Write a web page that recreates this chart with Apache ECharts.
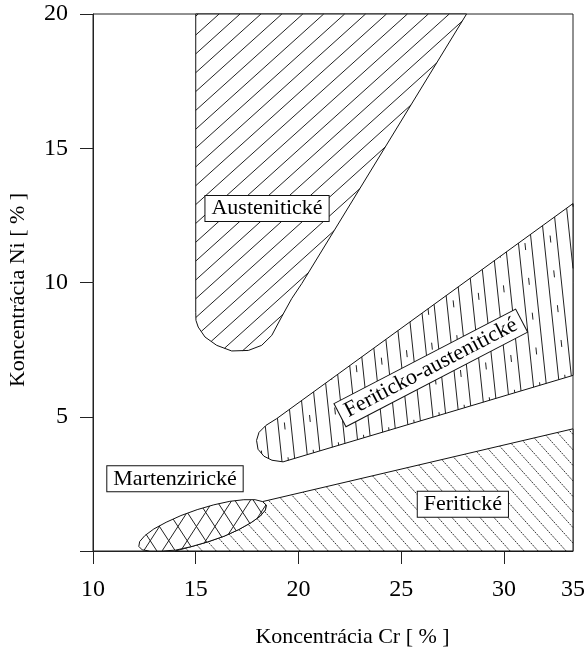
<!DOCTYPE html>
<html>
<head>
<meta charset="utf-8">
<script src="https://cdn.jsdelivr.net/npm/echarts@6/dist/echarts.min.js"></script>
<style>
html,body{margin:0;padding:0;background:#fff;}
#chart{width:584px;height:650px;}
</style>
</head>
<body>
<div id="chart"></div>
<script>
// ---- data ----
const xTickValues = [10, 15, 20, 25, 30, 33.36];   // last tick sits on the right frame edge
const xTickLabels = ['10', '15', '20', '25', '30', '35'];
const yTickValues = [0, 5, 10, 15, 20];
const yTickLabels = ['', '5', '10', '15', '20'];
const xRange = [10, 33.36];
const yRange = [0, 20];

const austeniticOutline = [[15.0,20],[15.0,8.89],[15.01,8.59],[15.12,8.34],[15.45,7.97],[16.02,7.66],[16.75,7.45],[17.56,7.47],[18.21,7.66],[18.70,8.03],[19.18,8.72],[19.67,9.40],[20.16,9.96],[28.18,20]];
const ferriticAusteniticOutline = [[18.94,4.93],[33.36,12.94],[33.36,6.54],[19.25,3.32],[18.71,3.38],[18.32,3.53],[18.03,3.79],[17.96,4.12],[18.08,4.42],[18.42,4.68]];
const ferriticOutline = [[18.25,1.84],[33.36,4.55],[33.36,0],[14.0,0],[14.77,0.16],[15.59,0.34],[16.38,0.55],[17.10,0.80],[17.70,1.06],[18.14,1.30],[18.39,1.53],[18.43,1.71]];
const martensiticOutline = [[18.43,1.71],[18.39,1.53],[18.14,1.30],[17.70,1.06],[17.10,0.80],[16.38,0.55],[15.59,0.34],[14.77,0.16],[14.00,0.03],[13.32,0],[12.77,0],[12.40,0.04],[12.23,0.17],[12.27,0.35],[12.52,0.57],[12.96,0.82],[13.56,1.07],[14.28,1.32],[15.07,1.54],[15.88,1.72],[16.66,1.85],[17.34,1.91],[17.89,1.91],[18.25,1.84]];

const regionLabels = ['Austenitické', 'Feriticko-austenitické', 'Martenzirické', 'Feritické'];
const labelX = [18.47, 26.44, 13.99, 28.0];
const labelY = [12.76, 6.82, 2.69, 1.74];
const labelAngle = [0, 27.5, 0, 0];

const FONT = '"Liberation Serif", "Times New Roman", serif';

// ---- hatch clipping helper (pixel space) ----
function hatchSegments(pts, angleDeg, spacing, offset) {
  const a = angleDeg * Math.PI / 180;
  const dx = Math.cos(a), dy = -Math.sin(a);
  const nx = -dy, ny = dx;
  let minN = Infinity, maxN = -Infinity;
  pts.forEach(p => { const v = p[0]*nx + p[1]*ny; if (v < minN) minN = v; if (v > maxN) maxN = v; });
  const segs = [];
  const start = Math.ceil((minN - offset) / spacing) * spacing + offset;
  for (let c = start; c <= maxN; c += spacing) {
    const ts = [];
    for (let i = 0; i < pts.length; i++) {
      const p = pts[i], q = pts[(i + 1) % pts.length];
      const np = p[0]*nx + p[1]*ny - c, nq = q[0]*nx + q[1]*ny - c;
      if ((np > 0) !== (nq > 0)) {
        const t = np / (np - nq);
        const x = p[0] + t*(q[0]-p[0]), y = p[1] + t*(q[1]-p[1]);
        ts.push(x*dx + y*dy);
      }
    }
    ts.sort((u, v) => u - v);
    for (let k = 0; k + 1 < ts.length; k += 2) {
      segs.push([c*nx + ts[k]*dx, c*ny + ts[k]*dy, c*nx + ts[k+1]*dx, c*ny + ts[k+1]*dy]);
    }
  }
  return segs;
}

function regionSeries(name, outline, hatches) {
  return {
    name: name,
    type: 'custom',
    coordinateSystem: 'cartesian2d',
    silent: true,
    animation: false,
    data: [outline[0]],
    renderItem: function (params, api) {
      const pts = outline.map(p => api.coord(p));
      const children = [{ type: 'polygon', shape: { points: pts }, style: { fill: '#fff' } }];
      hatches.forEach(h => {
        hatchSegments(pts, h.angle, h.spacing, h.offset || 0).forEach(s => {
          children.push({
            type: 'line',
            shape: { x1: s[0], y1: s[1], x2: s[2], y2: s[3] },
            style: { stroke: h.color || '#222', lineWidth: h.width || 1, lineDash: h.dash || null, lineDashOffset: h.dashOffset || 0, fill: null }
          });
        });
      });
      children.push({ type: 'polygon', shape: { points: pts }, style: { fill: 'none', stroke: '#111', lineWidth: 1 } });
      return { type: 'group', children: children };
    }
  };
}

const chart = echarts.init(document.getElementById('chart'), null, { renderer: 'canvas' });

chart.setOption({
  backgroundColor: '#fff',
  animation: false,
  grid: {
    left: 93, right: 11, top: 14, bottom: 99,
    containLabel: false,
    outerBoundsMode: 'none',
    show: true, borderColor: '#222', borderWidth: 1, backgroundColor: 'transparent'
  },
  xAxis: {
    type: 'value',
    min: xRange[0], max: xRange[1],
    name: 'Koncentrácia Cr [ % ]',
    nameLocation: 'middle',
    nameGap: 75,
    nameTextStyle: { fontFamily: FONT, fontSize: 22, color: '#000', padding: [0, 0, 0, 39] },
    axisLine: { show: true, onZero: false, lineStyle: { color: '#222', width: 1 } },
    axisTick: { show: true, inside: false, length: 13, customValues: xTickValues.slice(0, 5), lineStyle: { color: '#222' } },
    axisLabel: {
      show: true, margin: 27, fontFamily: FONT, fontSize: 24, color: '#000',
      customValues: xTickValues,
      formatter: function (v) {
        let best = 0;
        xTickValues.forEach((t, i) => { if (Math.abs(t - v) < Math.abs(xTickValues[best] - v)) best = i; });
        return xTickLabels[best];
      }
    },
    splitLine: { show: false }
  },
  yAxis: {
    type: 'value',
    min: yRange[0], max: yRange[1],
    name: 'Koncentrácia Ni [ % ]',
    nameLocation: 'middle',
    nameGap: 64,
    nameTextStyle: { fontFamily: FONT, fontSize: 22, color: '#000', padding: [0, 15, 0, 0] },
    axisLine: { show: true, onZero: false, lineStyle: { color: '#222', width: 1 } },
    axisTick: { show: true, inside: false, length: 13, customValues: yTickValues, lineStyle: { color: '#222' } },
    axisLabel: {
      show: true, margin: 25, fontFamily: FONT, fontSize: 24, color: '#000',
      customValues: yTickValues,
      formatter: function (v) { return yTickLabels[yTickValues.indexOf(v)] || ''; }
    },
    splitLine: { show: false }
  },
  series: [
    regionSeries('Austenitické', austeniticOutline, [
      { angle: 42, spacing: 14, offset: 3, color: '#222', width: 1 }
    ]),
    regionSeries('Feriticko-austenitické', ferriticAusteniticOutline, [
      { angle: 96, spacing: 12.9, offset: 0, color: '#222', width: 1 },
      { angle: 96, spacing: 25.8, offset: 6.45, color: '#222', width: 1, dash: [7, 28], dashOffset: 4 }
    ]),
    regionSeries('Feritické', ferriticOutline, [
      { angle: 132, spacing: 10.4, offset: 0, color: '#333', width: 1, dash: [2, 1] }
    ]),
    regionSeries('Martenzirické', martensiticOutline, [
      { angle: 57, spacing: 15.5, offset: 2, color: '#222', width: 1 },
      { angle: 123, spacing: 15.5, offset: 2, color: '#222', width: 1 }
    ]),
    {
      name: 'labels',
      type: 'custom',
      coordinateSystem: 'cartesian2d',
      silent: true,
      animation: false,
      data: labelX.map((x, i) => [x, labelY[i]]),
      renderItem: function (params, api) {
        const i = params.dataIndex;
        const p = api.coord([api.value(0), api.value(1)]);
        return {
          type: 'text',
          x: p[0], y: p[1],
          rotation: labelAngle[i] * Math.PI / 180,
          style: {
            text: regionLabels[i],
            fontFamily: FONT, fontSize: 22,
            fill: '#000',
            align: 'center', verticalAlign: 'middle',
            backgroundColor: '#fff', borderColor: '#111', borderWidth: 1,
            padding: [2, 6, 1, 6]
          }
        };
      }
    }
  ]
});
</script>
</body>
</html>
